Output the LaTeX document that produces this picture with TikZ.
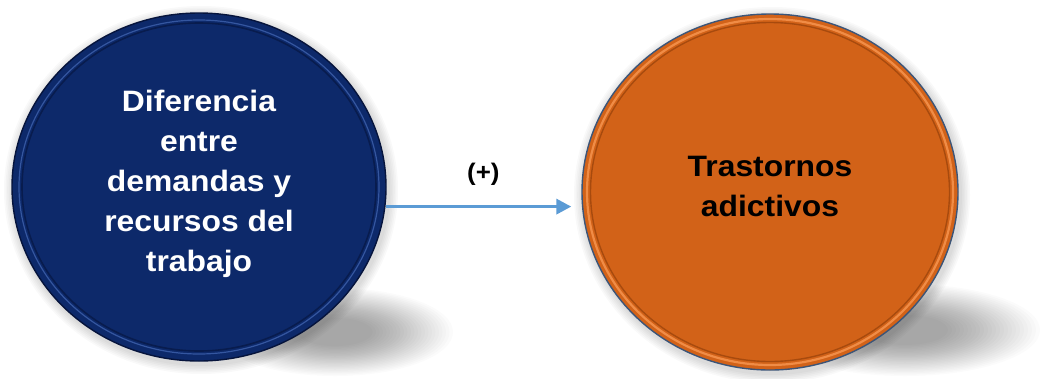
\documentclass[tikz,border=0pt]{standalone}
\usepackage{fontspec}
\setmainfont{Liberation Sans}[FakeStretch=1.08]
\usetikzlibrary{shapes.geometric,arrows.meta}
\definecolor{navy}{RGB}{13,41,106}
\definecolor{navyring}{RGB}{52,86,160}
\definecolor{navyedge}{RGB}{6,20,60}
\definecolor{orng}{RGB}{210,98,24}
\definecolor{orngring}{RGB}{240,140,70}
\definecolor{orngdark}{RGB}{150,65,10}
\definecolor{orngedge}{RGB}{60,85,120}
\definecolor{arrowblue}{RGB}{91,155,213}
\tikzset{
  disc/.style={ellipse, inner sep=0pt, draw=#1, line width=1.4pt},
  ctext/.style={font=\bfseries\fontsize{29.5}{40}\selectfont, align=center, inner sep=0pt},
  conn/.style={draw=arrowblue, line width=3.4pt, -{Triangle[length=15pt,width=15pt]}},
  lbl/.style={font=\bfseries\fontsize{24}{26}\selectfont, inner sep=0pt}
}
\begin{document}
\begin{tikzpicture}[x=1pt,y=-1pt]
\useasboundingbox (0,0) rectangle (1040,378);
\fill[white] (0,0) rectangle (1040,378);
% soft drop shadows
\foreach \i in {0,...,23}{
  \fill[black, opacity=0.016] (335,332) ellipse ({118-\i*3.5} and {44-\i*1.3});
  \fill[black, opacity=0.016] (905,330) ellipse ({135-\i*4} and {46-\i*1.35});
}
\foreach \i in {0,...,5}{
  \fill[black, opacity=0.025] (201,190) ellipse ({189+\i*1.6} and {176+\i*1.6});
  \fill[black, opacity=0.025] (772,195) ellipse ({190+\i*1.6} and {180+\i*1.6});
}
% discs
\node[disc=navyedge, fill=navy, minimum width=374pt, minimum height=348pt] (L) at (199,187) {};
\node[disc=orngedge, fill=orng, minimum width=376pt, minimum height=356pt] (R) at (770,192) {};
% bevel rings
\draw[navyring, line width=1.2pt] (L.center) ellipse (180 and 167);
\draw[navyedge, line width=1.6pt, opacity=0.6] (L.center) ellipse (177 and 164);
\draw[orngring, line width=2.2pt] (R.center) ellipse (183 and 173);
\draw[orngdark, line width=1.4pt, opacity=0.7] (R.center) ellipse (179.5 and 169.5);
% texts
\node[ctext, text=white] (Lt) at (199,184) {Diferencia\\entre\\demandas y\\recursos del\\trabajo};
\node[ctext, text=black] (Rt) at (770,186) {Trastornos\\adictivos};
% connector
\draw[conn, shorten >=10pt] (L.-6.7) -- node[lbl, pos=0.5, yshift=32pt] (plus) {(+)} (L.-6.7 -| R.west);
\end{tikzpicture}
\end{document}
